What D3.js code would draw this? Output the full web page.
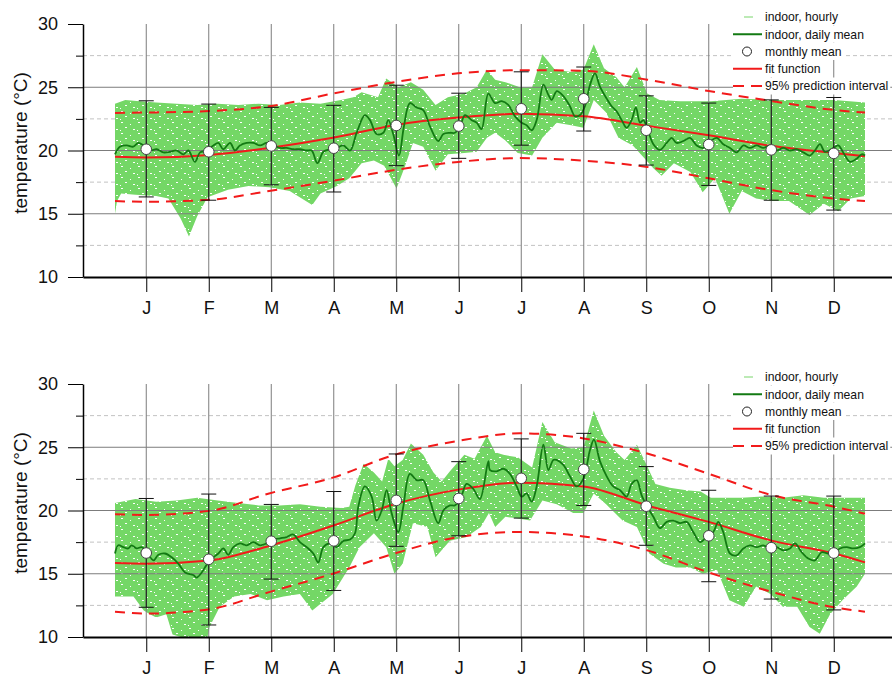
<!DOCTYPE html>
<html>
<head>
<meta charset="utf-8">
<script src="https://cdn.jsdelivr.net/npm/d3@7"></script>
<style>
  body { margin: 0; background: #fff; }
  svg { display: block; font-family: "Liberation Sans", Arial, sans-serif; }
</style>
</head>
<body>
<div id="chart"></div>
<script>
// ---- data ----
const monthLabels = ["J", "F", "M", "A", "M", "J", "J", "A", "S", "O", "N", "D"];
const majorTicks = [10, 15, 20, 25, 30];
const minorTicks = [12.5, 17.5, 22.5, 27.5];
const legendLabels = ["indoor, hourly", "indoor, daily mean", "monthly mean", "fit function", "95% prediction interval"];

// fit function + 95% prediction interval (day of year)
const fitDays = [0, 15, 46, 75, 106, 136, 167, 197, 228, 259, 289, 320, 350, 365];
const fitTop = [19.5, 19.45, 19.65, 20.2, 21.0, 22.0, 22.6, 22.9, 22.7, 21.95, 21.2, 20.35, 19.8, 19.55];
const piUpperTop = [22.97, 23.0, 23.12, 23.5, 24.5, 25.4, 26.1, 26.35, 26.3, 25.6, 24.7, 23.9, 23.2, 23.0];
const piLowerTop = [16.0, 15.95, 16.1, 16.8, 17.6, 18.45, 19.1, 19.4, 19.2, 18.7, 17.8, 16.85, 16.2, 16.0];
const fitBottom = [15.85, 15.8, 16.05, 17.2, 18.8, 20.5, 21.65, 22.2, 21.9, 20.4, 19.1, 17.6, 16.6, 15.9];
const piUpperBottom = [19.7, 19.65, 19.97, 21.35, 22.6, 24.4, 25.5, 26.1, 25.7, 24.5, 22.9, 21.2, 20.3, 19.75];
const piLowerBottom = [12.0, 11.85, 12.2, 13.55, 15.0, 16.6, 17.9, 18.3, 17.95, 16.85, 15.1, 13.55, 12.35, 12.0];

// monthly mean with error bars
const monthMeanTop = [20.1, 19.9, 20.36, 20.18, 21.98, 21.93, 23.3, 24.09, 21.6, 20.47, 20.05, 19.77];
const monthHighTop = [23.93, 23.67, 23.41, 23.57, 25.16, 24.53, 26.22, 26.6, 24.32, 23.75, 24.0, 24.19];
const monthLowTop = [16.33, 16.07, 17.29, 16.72, 18.8, 19.38, 20.42, 21.54, 18.85, 17.24, 16.07, 15.29];
const monthMeanBottom = [16.64, 16.14, 17.57, 17.6, 20.8, 20.95, 22.54, 23.25, 20.34, 18.0, 17.06, 16.64];
const monthHighBottom = [20.95, 21.3, 20.48, 21.5, 24.47, 23.86, 25.66, 26.1, 23.47, 21.6, 21.14, 21.14];
const monthLowBottom = [12.35, 10.95, 14.58, 13.68, 17.17, 18.0, 19.4, 20.4, 17.25, 14.37, 13.0, 12.14];

// daily mean
const dailyDaysTop = [0, 2.4, 5.7, 8.9, 11.4, 13.8, 17, 20.3, 23.5, 26.8, 30, 33.3, 35.7, 38.9, 41.4, 44.6, 47.9, 50.3, 52.7, 56,
  58.4, 60.8, 64.1, 67.3, 70.6, 73.8, 77, 80.3, 83.5, 86.8, 90, 93.3, 95.7, 98.5, 101.4, 104.6, 107.9, 111.1, 114.4, 117.6,
  121.6, 124.1, 127.3, 130.6, 133, 135.4, 138.2, 140.6, 143.5, 146.8, 150, 153.3, 157.3, 159.8, 163, 165.4, 167.9, 170.3, 173.6, 176,
  178.4, 181.7, 184.9, 188.2, 191.4, 194.7, 197.9, 200.3, 202.8, 205.2, 208.5, 210.9, 212.5, 215, 218.2, 221.4, 223.9, 226.3, 228.7, 231.2,
  233.6, 236, 239.3, 241.7, 244.1, 246.6, 249, 251.4, 253.5, 255.5, 257.1, 259.1, 262, 265.2, 268.5, 270.9, 273.3, 276.6, 279.8, 283.1,
  286.3, 289.6, 292.8, 296, 299.3, 302.5, 305.8, 309, 312.3, 315.5, 318.7, 322, 325.2, 328.5, 331.7, 335, 338.2, 340.6, 343.1, 345.5,
  349.6, 352, 354.4, 357.7, 360.9, 363.4, 365];
const dailyTop = [19.7, 20.3, 20.4, 20.3, 20.6, 20.4, 20.0, 20.1, 19.85, 19.9, 20.0, 19.7, 20.0, 19.1, 19.85, 20.0, 20.4, 20.6, 20.1, 20.6,
  20.0, 20.4, 20.6, 20.6, 20.4, 20.6, 20.4, 20.2, 20.2, 20.1, 20.1, 20.0, 20.0, 19.0, 19.9, 20.1, 20.2, 20.4, 20.0, 21.4,
  22.8, 22.4, 21.3, 21.4, 22.4, 21.3, 19.6, 21.9, 23.75, 23.4, 23.2, 21.9, 20.75, 21.3, 21.4, 21.4, 21.9, 22.8, 22.4, 22.2,
  21.7, 24.5, 23.75, 23.9, 23.6, 22.7, 22.2, 22.0, 21.6, 22.4, 25.2, 24.4, 24.0, 24.7, 24.3, 23.5, 22.7, 22.8, 23.5, 25.2,
  26.1, 25.05, 24.1, 23.5, 23.1, 22.4, 21.8, 22.4, 23.4, 22.2, 22.4, 21.7, 20.5, 20.05, 20.6, 21.0, 20.6, 20.75, 21.0, 20.4,
  20.2, 20.7, 21.0, 20.5, 20.2, 19.85, 20.4, 20.2, 20.4, 20.2, 20.4, 20.0, 20.2, 20.0, 20.1, 19.85, 19.6, 20.0, 20.5, 19.9,
  20.2, 20.4, 19.85, 19.1, 19.35, 19.7, 19.6];
const dailyDaysBottom = [0, 1.6, 4.1, 6.5, 8.1, 10.5, 13, 15.4, 18.7, 21.1, 24.3, 27.6, 30.8, 34.1, 38.1, 39.7, 42.2, 44.6, 47.9, 50.3,
  52.7, 55.1, 57.6, 60.8, 64.1, 67.3, 70.6, 73.8, 77, 80.3, 83.5, 86.8, 90, 93.3, 96.5, 98.9, 101.4, 104.6, 107.9, 111.1,
  114.4, 116.8, 118.4, 121.6, 124.9, 127.3, 129.8, 132.2, 134.6, 137.9, 140.3, 143.5, 146.8, 150, 153.3, 157.3, 159.8, 163, 165.4, 167.9,
  171.1, 174.4, 177.6, 181.7, 182.5, 185.7, 189, 192.2, 195.5, 197.9, 200.3, 202.8, 205.2, 208.5, 210.9, 213.3, 214.9, 218.2, 221.4, 224.7,
  227.9, 231.2, 233.1, 236, 239.3, 242.5, 245.8, 249, 251.4, 253.9, 256.3, 258.7, 262, 265.2, 268.5, 271.7, 275, 278.2, 281.4, 284.7,
  287.9, 291.2, 293.6, 296, 299.3, 302.5, 305.8, 309, 312.3, 315.5, 318.7, 322, 325.2, 328.5, 330.9, 334.2, 337.4, 340.6, 343.9, 347.1,
  349.6, 352.8, 356.1, 359.3, 362.5, 365];
const dailyBottom = [16.6, 17.25, 17.1, 17.0, 17.25, 17.0, 17.1, 16.7, 16.06, 16.5, 16.6, 16.3, 15.8, 15.1, 14.9, 14.7, 15.1, 15.7, 16.3, 16.6,
  17.0, 16.5, 17.1, 17.4, 17.25, 17.5, 17.25, 17.4, 17.7, 17.8, 17.9, 18.1, 17.5, 17.1, 16.6, 15.9, 17.1, 17.4, 17.1, 17.6,
  17.7, 18.2, 20.3, 21.9, 21.1, 19.2, 20.0, 21.6, 19.8, 18.3, 20.3, 22.9, 22.4, 22.4, 20.8, 19.0, 20.0, 20.4, 20.4, 20.8,
  22.1, 21.7, 20.9, 23.9, 23.2, 23.1, 23.3, 22.9, 21.9, 21.1, 21.35, 20.7, 21.9, 25.2, 23.2, 24.0, 24.0, 23.6, 22.7, 21.9,
  22.5, 24.8, 25.6, 23.9, 22.7, 21.9, 21.6, 21.1, 22.1, 22.4, 21.2, 20.4, 19.5, 18.6, 19.1, 19.2, 19.0, 19.1, 18.3, 17.5,
  17.9, 18.3, 19.1, 18.3, 16.6, 16.45, 17.0, 17.25, 17.1, 17.25, 17.0, 17.1, 16.85, 17.0, 17.4, 16.7, 16.2, 16.05, 16.7, 16.6,
  16.6, 17.0, 17.1, 17.0, 17.1, 17.4];

// hourly readings: upper and lower edge of the cloud
const hourlyHiDaysTop = [0, 5, 12, 20, 30, 40, 50, 60, 70, 80, 90, 100, 110, 116, 120, 128, 132, 138, 144, 150, 156, 162, 170, 176, 181, 185, 190, 197, 203, 208,
  214, 222, 228, 233, 238, 244, 248, 254, 259, 265, 275, 290, 305, 320, 335, 350, 365];
const hourlyHiTop = [23.7, 24.0, 23.9, 23.8, 23.7, 23.6, 23.7, 23.6, 23.7, 23.6, 23.8, 23.7, 24.0, 24.2, 24.6, 24.2, 25.7, 25.0, 25.4, 24.8, 23.6, 24.2, 24.5, 25.0, 26.4, 25.6, 25.4, 25.0, 25.0, 27.6,
  26.4, 26.2, 26.4, 28.4, 26.5, 25.8, 25.0, 26.6, 24.5, 24.0, 23.9, 23.9, 24.1, 24.0, 24.0, 24.0, 23.8];
const hourlyLoDaysTop = [0, 1, 3, 10, 20, 26, 32, 36, 40, 45, 55, 65, 75, 85, 96, 100, 108, 114, 120, 126, 131, 137, 141, 145, 150, 156, 162, 170, 176, 181,
  185, 190, 196, 203, 208, 215, 222, 228, 233, 239, 245, 252, 257, 262, 266, 272, 280, 286, 292, 299, 305, 312, 320, 328, 338, 345, 352, 358, 365];
const hourlyLoTop = [15.0, 16.0, 16.6, 16.5, 16.4, 16.2, 14.6, 13.2, 14.8, 16.3, 16.9, 17.2, 17.1, 16.8, 15.7, 16.6, 17.2, 17.8, 19.0, 19.2, 18.8, 17.0, 18.7, 20.6, 20.3, 18.4, 19.7, 19.8, 19.9, 21.0,
  21.4, 20.8, 19.8, 19.6, 21.0, 22.2, 22.0, 21.8, 24.0, 23.0, 21.0, 20.4, 19.5, 18.6, 18.0, 19.0, 18.3, 16.7, 17.8, 15.0, 16.8, 16.2, 16.0, 16.0, 14.9, 15.8, 15.2, 16.2, 16.4];
const hourlyHiDaysBottom = [0, 10, 20, 30, 40, 50, 60, 70, 80, 90, 100, 110, 114, 117, 121, 126, 130, 133, 136, 140, 144, 150, 155, 159, 163, 170, 175, 181, 185, 189,
  196, 203, 208, 214, 222, 228, 233, 238, 244, 248, 254, 259, 263, 270, 278, 285, 290, 296, 305, 315, 325, 335, 345, 355, 365];
const hourlyHiBottom = [20.6, 20.9, 20.7, 20.8, 21.0, 20.8, 20.6, 20.4, 20.4, 20.5, 20.3, 20.2, 20.3, 22.0, 23.7, 23.0, 22.3, 24.1, 23.5, 24.0, 25.3, 24.4, 23.0, 22.3, 23.1, 24.4, 24.1, 25.9, 24.6, 24.4,
  24.2, 23.4, 27.0, 25.4, 24.9, 25.0, 27.9, 25.9, 24.6, 24.0, 25.2, 23.5, 22.1, 21.8, 21.6, 21.5, 21.0, 21.0, 21.0, 21.1, 21.0, 21.2, 21.0, 21.0, 21.0];
const hourlyLoDaysBottom = [0, 9, 14, 17, 20, 25, 28, 32, 45, 46, 51, 58, 66, 74, 82, 90, 96, 106, 114, 119, 126, 132, 136, 140, 145, 152, 156, 163, 171, 178,
  182, 185, 190, 195, 202, 208, 215, 223, 228, 233, 239, 247, 254, 260, 267, 273, 280, 286, 293, 299, 306, 312, 319, 325, 332, 338, 343, 348, 354, 361, 365];
const hourlyLoBottom = [13.2, 13.2, 12.1, 11.8, 11.55, 11.8, 10.2, 10.0, 10.0, 10.8, 12.4, 13.2, 13.4, 12.9, 13.2, 13.4, 12.1, 13.4, 15.5, 17.1, 18.2, 17.1, 15.0, 15.8, 19.0, 18.7, 16.3, 17.6, 17.9, 18.7,
  19.8, 18.7, 19.5, 19.4, 19.2, 20.8, 20.5, 19.8, 19.8, 21.35, 20.5, 19.2, 18.7, 16.6, 15.8, 15.5, 15.5, 15.0, 15.3, 12.9, 12.4, 14.0, 13.4, 12.4, 12.4, 10.8, 10.25, 11.8, 12.9, 14.0, 15.0];

// ---- layout ----
const W = 892, H = 678;
const axisLeftX = 83, axisRightX = 892;
const colors = { hourly: "#74d766", legendHourly: "#a6e39c", daily: "#137a13", fit: "#f21a1a", grid: "#7c7c7c", minor: "#c2c2c2" };

const svg = d3.select("#chart").append("svg")
    .attr("width", W)
    .attr("height", H);

// lightly speckled fill for the hourly cloud
const pat = svg.append("defs").append("pattern")
    .attr("id", "speck")
    .attr("patternUnits", "userSpaceOnUse")
    .attr("width", 17).attr("height", 11);
pat.append("rect").attr("width", 17).attr("height", 11).attr("fill", colors.hourly);
[[2, 1, 2], [11, 3, 1], [6, 6, 2], [14, 8, 2], [1, 9, 1]].forEach(s => {
    pat.append("rect").attr("x", s[0]).attr("y", s[1]).attr("width", s[2]).attr("height", 1).attr("fill", "#fff");
});

// x in day of year
const x = d3.scaleLinear().domain([0, 365]).range([115, 865]);
const xAxisScale = d3.scaleLinear().domain([x.invert(axisLeftX), x.invert(axisRightX)]).range([axisLeftX, axisRightX]);
const monthMid = monthLabels.map((m, i) => (i + 0.5) * 365 / 12);

const zip = (a, b) => a.map((d, i) => ({ day: d, v: b[i] }));

const panels = [
    {
        top: 24, bottom: 277,
        fit: fitTop, piUp: piUpperTop, piLo: piLowerTop,
        mean: monthMeanTop, hi: monthHighTop, lo: monthLowTop,
        daily: zip(dailyDaysTop, dailyTop),
        cloudHi: zip(hourlyHiDaysTop, hourlyHiTop), cloudLo: zip(hourlyLoDaysTop, hourlyLoTop)
    },
    {
        top: 384, bottom: 637,
        fit: fitBottom, piUp: piUpperBottom, piLo: piLowerBottom,
        mean: monthMeanBottom, hi: monthHighBottom, lo: monthLowBottom,
        daily: zip(dailyDaysBottom, dailyBottom),
        cloudHi: zip(hourlyHiDaysBottom, hourlyHiBottom), cloudLo: zip(hourlyLoDaysBottom, hourlyLoBottom)
    }
];

panels.forEach(drawPanel);

function drawPanel(p) {
    const y = d3.scaleLinear().domain([10, 30]).range([p.bottom, p.top]);
    const g = svg.append("g");

    // minor dashed grid
    g.selectAll(".minor").data(minorTicks).enter().append("line")
        .attr("x1", axisLeftX).attr("x2", axisRightX)
        .attr("y1", d => y(d)).attr("y2", d => y(d))
        .attr("stroke", colors.minor).attr("stroke-dasharray", "4,3");

    // hourly cloud (outline of upper edge then lower edge back)
    const line = d3.line().x(d => x(d.day)).y(d => y(d.v));
    const outline = p.cloudHi.concat(p.cloudLo.slice().reverse());
    g.append("path")
        .attr("d", line(outline) + "Z")
        .attr("fill", "url(#speck)");

    // major grid
    g.selectAll(".major").data(majorTicks.slice(1, -1)).enter().append("line")
        .attr("x1", axisLeftX).attr("x2", axisRightX)
        .attr("y1", d => y(d)).attr("y2", d => y(d))
        .attr("stroke", colors.grid);
    g.selectAll(".vgrid").data(monthMid).enter().append("line")
        .attr("x1", d => x(d)).attr("x2", d => x(d))
        .attr("y1", p.top).attr("y2", p.bottom)
        .attr("stroke", colors.grid);

    // prediction interval + fit
    const smooth = d3.line().x(d => x(d.day)).y(d => y(d.v)).curve(d3.curveMonotoneX);
    [p.piUp, p.piLo].forEach(arr => {
        g.append("path")
            .attr("d", smooth(zip(fitDays, arr)))
            .attr("fill", "none").attr("stroke", colors.fit)
            .attr("stroke-width", 2).attr("stroke-dasharray", "10,7");
    });
    g.append("path")
        .attr("d", smooth(zip(fitDays, p.fit)))
        .attr("fill", "none").attr("stroke", colors.fit).attr("stroke-width", 2);

    // daily mean
    g.append("path")
        .attr("d", d3.line().x(d => x(d.day)).y(d => y(d.v)).curve(d3.curveCatmullRom.alpha(0.5))(p.daily))
        .attr("fill", "none").attr("stroke", colors.daily).attr("stroke-width", 1.8);

    // monthly means with error bars
    const bars = g.selectAll(".bar").data(monthMid).enter().append("g");
    bars.append("line")
        .attr("x1", d => x(d)).attr("x2", d => x(d))
        .attr("y1", (d, i) => y(p.hi[i])).attr("y2", (d, i) => y(p.lo[i]))
        .attr("stroke", "#111");
    bars.append("line")
        .attr("x1", d => x(d) - 7.5).attr("x2", d => x(d) + 7.5)
        .attr("y1", (d, i) => y(p.hi[i])).attr("y2", (d, i) => y(p.hi[i]))
        .attr("stroke", "#111");
    bars.append("line")
        .attr("x1", d => x(d) - 7.5).attr("x2", d => x(d) + 7.5)
        .attr("y1", (d, i) => y(p.lo[i])).attr("y2", (d, i) => y(p.lo[i]))
        .attr("stroke", "#111");
    bars.append("circle")
        .attr("cx", d => x(d)).attr("cy", (d, i) => y(p.mean[i]))
        .attr("r", 5.3).attr("fill", "#fff").attr("stroke", "#444");

    // axes
    const yAxis = g.append("g")
        .attr("transform", `translate(${axisLeftX},0)`)
        .call(d3.axisLeft(y).tickValues(majorTicks).tickSize(15).tickSizeOuter(0).tickPadding(10));
    g.append("g")
        .attr("transform", `translate(${axisLeftX},0)`)
        .call(d3.axisLeft(y).tickValues(minorTicks).tickSize(7).tickFormat(""))
        .select(".domain").remove();
    yAxis.selectAll("text").attr("font-size", 18).attr("fill", "#111");
    yAxis.select(".domain").attr("stroke-width", 1.5);

    const xAxis = g.append("g")
        .attr("transform", `translate(0,${p.bottom})`)
        .call(d3.axisBottom(xAxisScale).tickValues(monthMid).tickFormat((d, i) => monthLabels[i])
            .tickSize(15).tickSizeOuter(0).tickPadding(9));
    xAxis.selectAll("text").attr("font-size", 18).attr("fill", "#111");
    xAxis.select(".domain").attr("stroke-width", 1.8);

    g.append("text")
        .attr("transform", `translate(20,${(p.top + p.bottom) / 2 - 7.5}) rotate(-90)`)
        .attr("text-anchor", "middle")
        .attr("dy", "0.35em")
        .attr("font-size", 19)
        .attr("fill", "#111")
        .text("temperature (°C)");

    // legend
    const leg = g.append("g");
    legendLabels.forEach((label, i) => {
        const ly = p.top - 7 + i * 17.25;
        const row = leg.append("g");
        const bg = row.append("rect").attr("fill", "#fff");
        const t = row.append("text")
            .attr("x", 765).attr("y", ly).attr("dy", "0.35em")
            .attr("font-size", 12.2).attr("fill", "#111")
            .text(label);
        bg.attr("x", 733).attr("y", ly - 8.5).attr("height", 17)
            .attr("width", 765 - 733 + t.node().getComputedTextLength() + 2);
        if (i === 0) {
            row.append("line").attr("x1", 744).attr("x2", 753).attr("y1", ly).attr("y2", ly)
                .attr("stroke", colors.legendHourly).attr("stroke-width", 1.5);
        } else if (i === 1) {
            row.append("line").attr("x1", 733).attr("x2", 762).attr("y1", ly).attr("y2", ly)
                .attr("stroke", colors.daily).attr("stroke-width", 2);
        } else if (i === 2) {
            row.append("circle").attr("cx", 747).attr("cy", ly).attr("r", 4.5)
                .attr("fill", "#fff").attr("stroke", "#222");
        } else {
            row.append("line").attr("x1", 733).attr("x2", 762).attr("y1", ly).attr("y2", ly)
                .attr("stroke", colors.fit).attr("stroke-width", 2)
                .attr("stroke-dasharray", i === 4 ? "11,7" : null);
        }
    });
}
</script>
</body>
</html>
